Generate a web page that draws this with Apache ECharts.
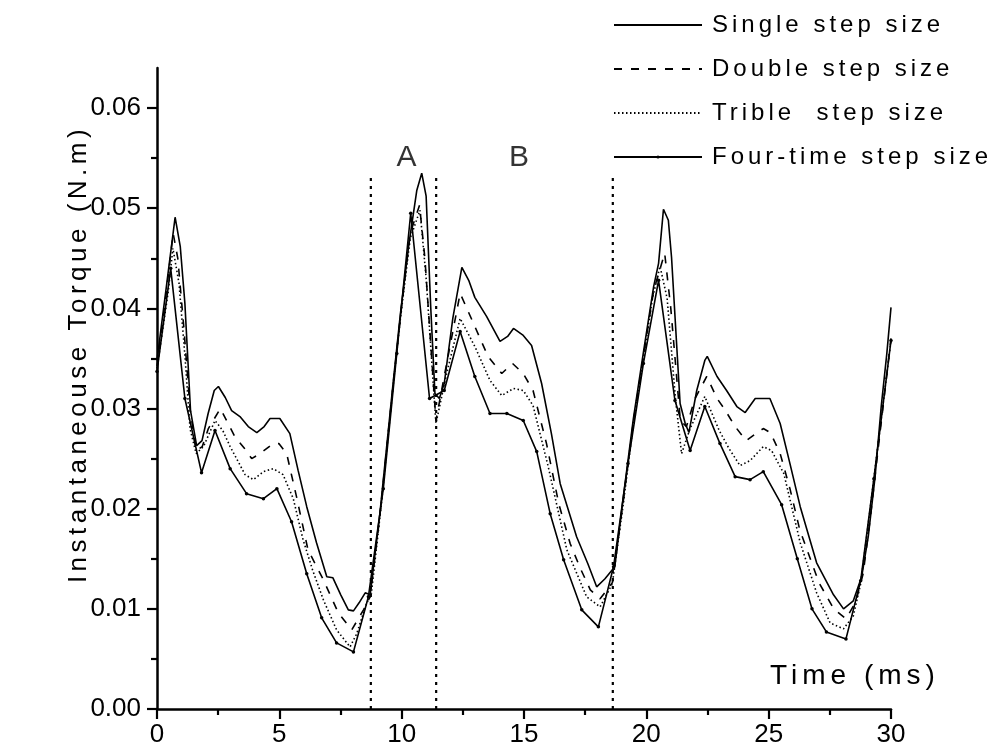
<!DOCTYPE html>
<html><head><meta charset="utf-8">
<script src="https://cdn.jsdelivr.net/npm/echarts@6/dist/echarts.min.js"></script>
<style>
html,body{margin:0;padding:0;background:#fff;}
#c{width:998px;height:750px;}
</style></head><body><div id="c"></div>
<script>
// ---- data (x in ms, y in N.m) ----
const seriesNames = ['Single step size', 'Double step size', 'Trible  step size', 'Four-time step size'];
const singleStep = [[0,0.0348],[0.4,0.0425],[0.74,0.0491],[0.95,0.0462],[1.14,0.0405],[1.37,0.0298],[1.62,0.0263],[1.84,0.0268],[2.09,0.0295],[2.34,0.0318],[2.51,0.0322],[2.79,0.0311],[3.05,0.0298],[3.39,0.0292],[3.73,0.0282],[4.08,0.0276],[4.38,0.0282],[4.62,0.029],[5.02,0.029],[5.43,0.0275],[5.77,0.0238],[6.12,0.0202],[6.52,0.0166],[6.94,0.0132],[7.19,0.0131],[7.51,0.0114],[7.82,0.0099],[8.03,0.0098],[8.26,0.0106],[8.51,0.0116],[8.71,0.0114],[9.11,0.0195],[9.66,0.0328],[9.95,0.0395],[10.3,0.0465],[10.62,0.0518],[10.82,0.0535],[11.0,0.0512],[11.19,0.040],[11.36,0.0315],[11.54,0.031],[11.74,0.0325],[12.09,0.039],[12.46,0.0441],[12.74,0.0428],[12.99,0.0411],[13.47,0.0392],[14.02,0.0367],[14.33,0.0372],[14.57,0.038],[14.97,0.0373],[15.31,0.0363],[15.72,0.0325],[16.12,0.0275],[16.48,0.0225],[17.15,0.0172],[17.61,0.0145],[17.97,0.0122],[18.31,0.013],[18.71,0.0142],[19.06,0.0212],[19.47,0.029],[19.88,0.0356],[20.3,0.0422],[20.5,0.0445],[20.7,0.0499],[20.9,0.0488],[21.03,0.0451],[21.38,0.0305],[21.59,0.0285],[21.74,0.0276],[22.06,0.0318],[22.39,0.0348],[22.49,0.0352],[22.89,0.0332],[23.28,0.0318],[23.7,0.0302],[24.04,0.0296],[24.45,0.031],[25.05,0.031],[25.47,0.0285],[25.87,0.0245],[26.29,0.0202],[26.96,0.0146],[27.65,0.0114],[28.06,0.01],[28.46,0.0108],[28.8,0.0132],[29.07,0.0172],[29.35,0.0232],[29.6,0.0302],[29.83,0.0355],[30,0.0401]];
const doubleStep = [[0,0.0342],[0.4,0.042],[0.66,0.0475],[0.85,0.045],[1.1,0.038],[1.35,0.03],[1.6,0.0258],[1.85,0.0262],[2.1,0.028],[2.59,0.0300],[3.18,0.0272],[3.58,0.026],[3.87,0.025],[4.21,0.0255],[4.75,0.0265],[4.98,0.0265],[5.3,0.0255],[5.72,0.021],[6.17,0.0159],[6.8,0.0129],[7.41,0.0096],[7.96,0.0079],[8.44,0.0099],[8.71,0.0112],[9.11,0.0193],[9.66,0.0326],[9.95,0.0392],[10.35,0.0475],[10.73,0.0503],[10.95,0.045],[11.4,0.0288],[11.84,0.0345],[12.39,0.0415],[12.99,0.0382],[13.53,0.0352],[14.09,0.0335],[14.53,0.0345],[14.97,0.0335],[15.37,0.0318],[15.92,0.0265],[16.42,0.0205],[16.89,0.0165],[17.31,0.014],[17.71,0.0119],[18.11,0.011],[18.61,0.0126],[19.06,0.0208],[19.47,0.0287],[19.88,0.0352],[20.3,0.0418],[20.75,0.0455],[21.0,0.040],[21.39,0.0288],[21.64,0.0282],[21.99,0.031],[22.47,0.0332],[22.89,0.031],[23.18,0.03],[23.63,0.0282],[24.08,0.0268],[24.48,0.0275],[24.78,0.028],[25.07,0.0276],[25.47,0.0255],[25.87,0.022],[26.27,0.0179],[27.06,0.0126],[27.66,0.0100],[28.16,0.009],[28.56,0.0107],[28.86,0.0135],[29.15,0.019],[29.5,0.0265],[30,0.037]];
const tribleStep = [[0,0.034],[0.45,0.0415],[0.65,0.046],[0.9,0.0425],[1.15,0.035],[1.35,0.028],[1.6,0.0255],[1.9,0.0262],[2.37,0.0288],[2.69,0.0278],[2.99,0.0262],[3.6,0.0234],[3.94,0.0229],[4.35,0.0237],[4.75,0.024],[5.15,0.0234],[5.57,0.021],[5.97,0.0169],[6.37,0.0138],[6.8,0.0109],[7.34,0.0079],[7.89,0.0062],[8.16,0.0075],[8.56,0.0105],[8.76,0.0115],[9.15,0.020],[9.66,0.0325],[9.95,0.039],[10.35,0.047],[10.75,0.0498],[11.0,0.043],[11.4,0.0285],[11.84,0.0335],[12.39,0.039],[12.99,0.0362],[13.61,0.0328],[14.09,0.0313],[14.57,0.032],[14.97,0.0318],[15.37,0.0303],[15.99,0.0242],[16.75,0.0159],[17.56,0.0112],[18.11,0.0102],[18.61,0.0125],[19.06,0.0205],[19.47,0.0285],[19.88,0.035],[20.25,0.041],[20.56,0.0442],[20.85,0.041],[21.19,0.031],[21.44,0.0255],[21.79,0.028],[22.39,0.0312],[22.98,0.0278],[23.38,0.026],[23.83,0.0243],[24.24,0.0248],[24.78,0.0262],[25.12,0.0258],[25.62,0.0235],[26.29,0.0166],[26.96,0.0116],[27.51,0.0086],[28.06,0.008],[28.46,0.0093],[28.76,0.0125],[29.15,0.02],[29.5,0.027],[30,0.0368]];
const fourTimeStep = [[0,0.0337],[0.56,0.044],[1.14,0.031],[1.82,0.0236],[2.37,0.0278],[2.99,0.024],[3.66,0.0215],[4.35,0.021],[4.9,0.022],[5.5,0.0187],[6.12,0.0135],[6.73,0.0091],[7.34,0.0066],[8.03,0.0057],[8.64,0.0112],[9.25,0.022],[9.8,0.0355],[10.37,0.0495],[11.14,0.031],[11.74,0.0318],[12.39,0.0377],[12.99,0.0332],[13.61,0.0295],[14.3,0.0295],[14.97,0.0288],[15.52,0.0257],[16.07,0.0195],[16.62,0.0149],[17.36,0.0099],[18.04,0.0082],[18.66,0.0142],[19.25,0.0245],[19.88,0.0345],[20.5,0.0428],[21.17,0.0308],[21.79,0.0258],[22.39,0.0302],[23.01,0.0265],[23.63,0.0232],[24.24,0.0229],[24.78,0.0237],[25.53,0.0204],[26.17,0.015],[26.77,0.01],[27.36,0.0077],[28.16,0.007],[28.76,0.0128],[29.3,0.023],[30,0.0368]];
const dividerX = [8.74, 11.41, 18.63];
const dividerTop = 0.0532;
const regionLabels = ['A', 'B'];
const regionX = [10.2, 14.8];
const regionY = [0.055, 0.055];
const yTicks = [0, 0.01, 0.02, 0.03, 0.04, 0.05, 0.06];
const yMinorTicks = [0.005, 0.015, 0.025, 0.035, 0.045, 0.055];
const xLabel = 'Time (ms)';
const yLabel = 'Instantaneouse Torque (N.m)';

// letter spacing for marked fonts (canvas)
(function () {
  const P = CanvasRenderingContext2D.prototype;
  const of = P.fillText, os = P.strokeText;
  function ls(ctx) {
    const f = ctx.font || '';
    const v = f.indexOf('lspA') >= 0 ? '4px' : f.indexOf('lspB') >= 0 ? '4.5px' : f.indexOf('lspC') >= 0 ? '5px' : '0px';
    if ('letterSpacing' in ctx) ctx.letterSpacing = v;
  }
  P.fillText = function (t, x, y, m) { ls(this); return m === undefined ? of.call(this, t, x, y) : of.call(this, t, x, y, m); };
  P.strokeText = function (t, x, y, m) { ls(this); return m === undefined ? os.call(this, t, x, y) : os.call(this, t, x, y, m); };
})();

// ---- chart ----
const myChart = echarts.init(document.getElementById('c'), null, {renderer: 'canvas'});
const FONT = 'Liberation Sans';
function mkLine(name, data, type, extra) {
  return Object.assign({
    name: name, type: 'line', data: data, symbol: 'none', showSymbol: false,
    lineStyle: {color: '#000', width: 1.6, type: type},
    itemStyle: {color: '#000'}, z: 3, silent: true
  }, extra || {});
}
const allSeries = [
  mkLine(seriesNames[0], singleStep, 'solid'),
  mkLine(seriesNames[1], doubleStep, [8, 9]),
  mkLine(seriesNames[2], tribleStep, [1.5, 2.5]),
  mkLine(seriesNames[3], fourTimeStep, 'solid', {symbol: 'circle', showSymbol: true, symbolSize: 3.5})
];
dividerX.forEach(function (x) {
  allSeries.push({type: 'line', data: [[x, 0], [x, dividerTop]], symbol: 'none', silent: true,
    lineStyle: {color: '#000', width: 2.2, type: [3, 5]}, z: 2});
});
allSeries.push({
  type: 'scatter', symbolSize: 0, silent: true,
  data: regionLabels.map(function (t, i) { return {name: t, value: [regionX[i], regionY[i]]}; }),
  label: {show: true, position: 'inside', formatter: '{b}', color: '#000', fontSize: 30, fontFamily: FONT}
});
const tks = {color: '#000', width: 2.2};
myChart.setOption({
  animation: false,
  backgroundColor: '#fff',
  grid: {left: 157, right: 107, top: 68, bottom: 41, containLabel: false},
  legend: {
    orient: 'vertical', left: 608, top: 8, itemWidth: 88, itemHeight: 4, itemGap: 20,
    selectedMode: false,
    data: seriesNames.map(function (n, i) { return i === 3 ? {name: n} : {name: n, itemStyle: {opacity: 0}}; }),
    textStyle: {fontSize: 24, fontFamily: FONT + ', lspA', color: '#000', padding: [0, 0, 0, 5]}
  },
  xAxis: {
    type: 'value', min: 0, max: 30, interval: 5,
    axisLine: {show: true, onZero: false, lineStyle: {color: '#000', width: 2.5}},
    axisTick: {show: true, length: 10, lineStyle: tks},
    minorTick: {show: true, splitNumber: 2, length: 6, lineStyle: tks},
    axisLabel: {fontSize: 26, fontFamily: FONT, color: '#000', margin: 13},
    splitLine: {show: false}
  },
  yAxis: [{
    type: 'value', min: 0, max: 0.064, interval: 0.01, position: 'left',
    axisLine: {show: true, onZero: false, lineStyle: {color: '#000', width: 2.5}},
    axisTick: {show: true, length: 10, lineStyle: tks, customValues: yTicks},
    axisLabel: {fontSize: 26, fontFamily: FONT, color: '#000', margin: 16, customValues: yTicks,
      formatter: function (v) { return v.toFixed(2); }},
    splitLine: {show: false}
  }, {
    type: 'value', min: 0, max: 0.064, interval: 0.01, position: 'left', offset: 0,
    axisLine: {show: false},
    axisTick: {show: true, length: 6, lineStyle: tks, customValues: yMinorTicks},
    axisLabel: {show: false}, splitLine: {show: false}
  }],
  graphic: [
    {type: 'text', left: 770, top: 662, silent: true,
      style: {text: xLabel, fontSize: 28, fontFamily: FONT + ', lspC', fill: '#000'}},
    {type: 'text', x: 79, y: 354, rotation: Math.PI / 2, silent: true,
      style: {text: yLabel, fontSize: 26, fontFamily: FONT + ', lspB', fill: '#000', align: 'center', verticalAlign: 'middle'}}
  ],
  series: allSeries
});
</script></body></html>
